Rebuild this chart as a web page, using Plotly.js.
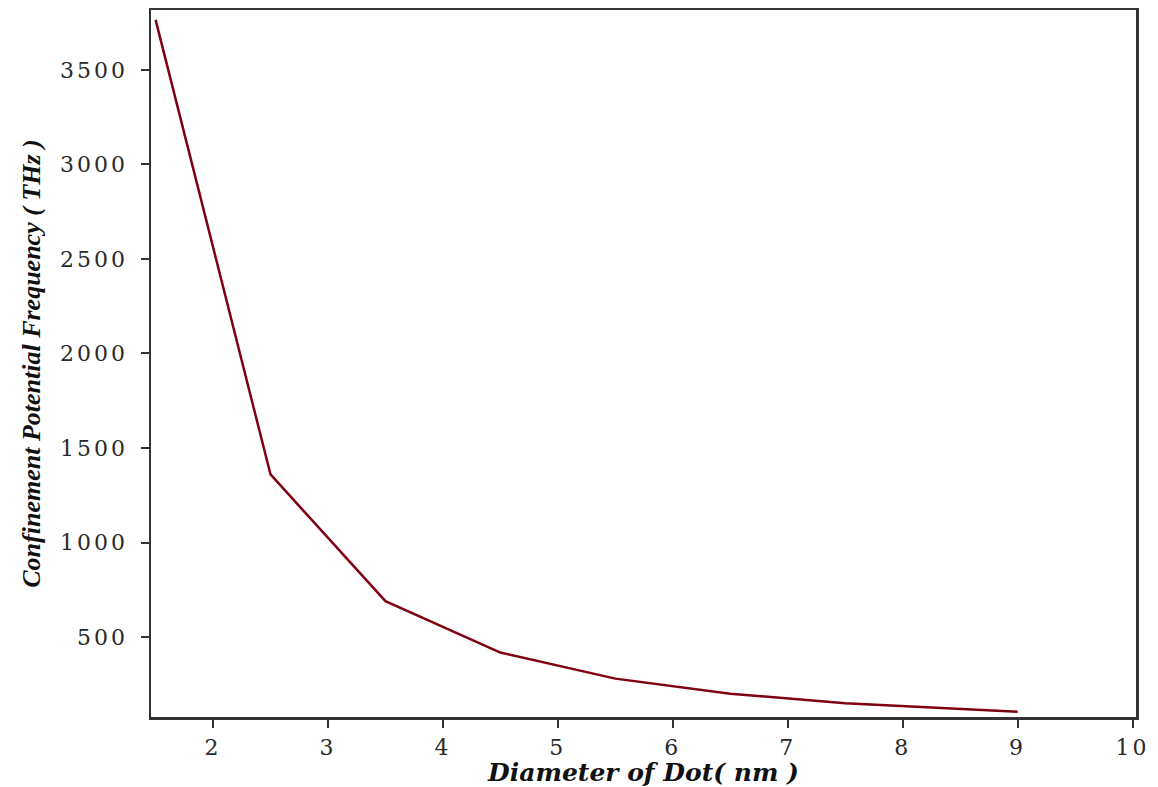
<!DOCTYPE html>
<html>
<head>
<meta charset="utf-8">
<script src="https://cdn.plot.ly/plotly-3.0.1.min.js"></script>
<style>
html,body{margin:0;padding:0;background:#fff;}
#chart{width:1158px;height:787px;}
.xtick text,.ytick text{letter-spacing:3px;}
</style>
</head>
<body>
<div id="chart"></div>
<script>
const diameter = [1.5, 2.5, 3.5, 4.5, 5.5, 6.5, 7.5, 8.5, 9.0];
const frequency = [3765, 1360, 690, 418, 280, 200, 150, 118, 105];
const xTicks = [2, 3, 4, 5, 6, 7, 8, 9, 10];
const yTicks = [500, 1000, 1500, 2000, 2500, 3000, 3500];

const trace = {
  x: diameter, y: frequency, type: 'scatter', mode: 'lines',
  line: {color: '#7f0010', width: 2.5}, showlegend: false
};
const tickFont = {family: 'DejaVu Serif, serif', size: 22, color: '#2a2a2a'};
const layout = {
  width: 1158, height: 787,
  margin: {l: 151, r: 22, t: 10, b: 70},
  paper_bgcolor: '#fff', plot_bgcolor: '#fff',
  xaxis: {
    range: [1.46, 10.03], tickvals: xTicks, ticks: 'outside', ticklen: 8, tickwidth: 2,
    tickcolor: '#333', showline: true, linecolor: '#333', linewidth: 2.5, mirror: true,
    showgrid: false, zeroline: false, tickfont: tickFont, ticklabelstandoff: 1,
    title: {text: '<b><i>Diameter of Dot( nm )</i></b>', font: {family: 'DejaVu Serif, serif', size: 25, color: '#111'}, standoff: 0}
  },
  yaxis: {
    range: [77, 3817], tickvals: yTicks, ticks: 'outside', ticklen: 8, tickwidth: 2,
    tickcolor: '#333', showline: true, linecolor: '#333', linewidth: 2.5, mirror: true,
    showgrid: false, zeroline: false, tickfont: tickFont, ticklabelstandoff: 8,
    title: {text: '<b><i>Confinement Potential Frequency ( THz )</i></b>', font: {family: 'Liberation Serif, serif', size: 26, color: '#111'}, standoff: 12}
  }
};
Plotly.newPlot('chart', [trace], layout, {staticPlot: true});
</script>
</body>
</html>
